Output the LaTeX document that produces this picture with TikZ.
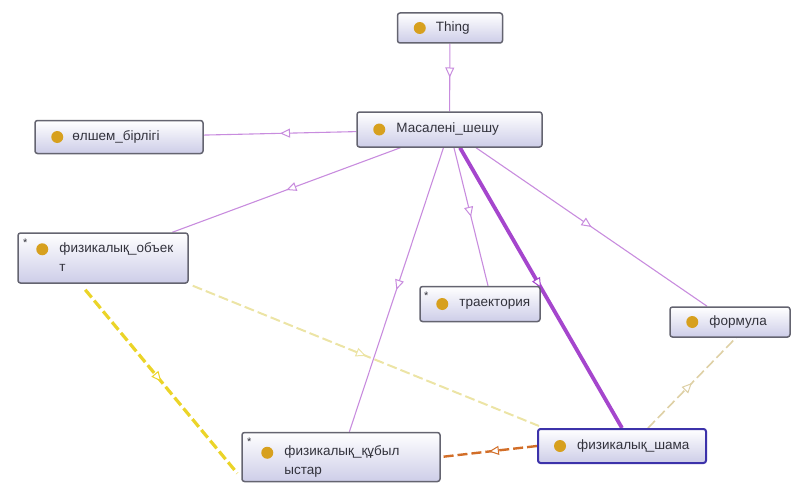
\documentclass[tikz,border=0pt]{standalone}
\usepackage{fontspec}
\setmainfont{Liberation Sans}
\usetikzlibrary{arrows.meta,decorations.markings,calc,backgrounds}
\definecolor{boxborder}{RGB}{100,100,112}
\definecolor{boxlav}{RGB}{205,205,232}
\definecolor{selblue}{RGB}{60,50,170}
\definecolor{iconor}{RGB}{215,160,30}
\definecolor{isacol}{RGB}{200,140,222}
\definecolor{isathick}{RGB}{165,70,205}
\definecolor{yel}{RGB}{235,212,40}
\definecolor{yellight}{RGB}{236,228,165}
\definecolor{orng}{RGB}{210,110,40}
\definecolor{tancol}{RGB}{222,208,165}
\definecolor{txtcol}{RGB}{50,50,60}
\tikzset{
  cls/.style={draw=boxborder, line width=1.5pt, rounded corners=2.5pt, top color=white, bottom color=boxlav, inner sep=0pt},
  selcls/.style={cls, draw=selblue, line width=2pt},
  icon/.style={circle, fill=iconor, minimum size=12pt, inner sep=0pt},
  lbl/.style={anchor=west, font=\fontsize{13.5}{19}\selectfont, text=txtcol, align=left, inner sep=0pt},
  lbltwo/.style={lbl, anchor=north west},
  starlbl/.style={font=\fontsize{11}{11}\selectfont, text=txtcol, inner sep=0pt},
  midarrow/.style={postaction=decorate, decoration={markings, mark=at position 0.5 with {\arrow{Triangle[open, fill=white, length=10pt, width=9pt, line width=1pt]}}}},
  isa/.style={draw=isacol, line width=1.1pt, midarrow},
  isabold/.style={draw=isathick, line width=3.8pt, midarrow},
  rel/.style={midarrow, dash pattern=on 10pt off 4pt},
}
\begin{document}
\begin{tikzpicture}[x=1pt,y=-1pt]
\useasboundingbox (0,0) rectangle (792,487);

% class boxes
\node[cls, minimum width=105, minimum height=30] (thing) at (450,28) {};
\node[cls, minimum width=168, minimum height=33] (olshem) at (119,137) {};
\node[cls, minimum width=185, minimum height=35] (masele) at (449.5,129.5) {};
\node[cls, minimum width=170, minimum height=50] (fizobj) at (103,258) {};
\node[cls, minimum width=120, minimum height=35] (traekt) at (480,304) {};
\node[cls, minimum width=120, minimum height=30] (formula) at (730,322) {};
\node[cls, minimum width=198, minimum height=49] (fizqub) at (341,457) {};
\node[selcls, minimum width=168, minimum height=34] (fizshama) at (622,446) {};

% icons
\node[icon] (thingi) at ($(thing.west)+(23,0)$) {};
\node[icon] (olshemi) at ($(olshem.west)+(23,0)$) {};
\node[icon] (masolei) at ($(masele.west)+(23,0)$) {};
\node[icon] (fizobji) at ($(fizobj.north west)+(25,17)$) {};
\node[icon] (traekti) at ($(traekt.west)+(23,0)$) {};
\node[icon] (formulai) at ($(formula.west)+(23,0)$) {};
\node[icon] (fizqubi) at ($(fizqub.north west)+(26,21)$) {};
\node[icon] (fizshamai) at ($(fizshama.west)+(23,0)$) {};

% stars
\node[starlbl] (fizobjs) at ($(fizobj.north west)+(8,10)$) {*};
\node[starlbl] (traekts) at ($(traekt.north west)+(7,10)$) {*};
\node[starlbl] (fizqubs) at ($(fizqub.north west)+(8,10)$) {*};

% labels
\node[lbl] (thingt) at ($(thing.west)+(39,0)$) {Thing};
\node[lbl] (olshemt) at ($(olshem.west)+(38,0)$) {өлшем\_бірлігі};
\node[lbl] (masolet) at ($(masele.west)+(40,0)$) {Масалені\_шешу};
\node[lbltwo] (fizobjt) at ($(fizobj.north west)+(42,10)$) {физикалық\_объек\\т};
\node[lbl] (traektt) at ($(traekt.west)+(40,0)$) {траектория};
\node[lbl] (formulat) at ($(formula.west)+(40,0)$) {формула};
\node[lbltwo] (fizqubt) at ($(fizqub.north west)+(43,14)$) {физикалық\_құбыл\\ыстар};
\node[lbl] (fizshamat) at ($(fizshama.west)+(40,0)$) {физикалық\_шама};

% connectors
\begin{scope}[on background layer]
\draw[isa] (thing) -- (masele);
\draw[isa] (masele) -- (olshem);
\draw[isa] (masele) -- (fizobj);
\draw[isa] (masele) -- (fizqub);
\draw[isa] (masele) -- ($(traekt.north)+(8,0)$);
\draw[isabold] (masele) -- (fizshama.north);
\draw[isa] (masele) -- (formula);
\draw[rel, draw=yel, line width=3.2pt] ($(fizobj.south west)+(68,6)$) -- ($(fizqub.south west)+(-4,-9)$);
\draw[rel, draw=yellight, line width=2pt] ($(fizobj.south east)+(4,2)$) -- ($(fizshama.north west)+(2,-2)$);
\draw[rel, draw=orng, line width=2.4pt] (fizshama.west) -- (fizqub.east);
\draw[rel, draw=tancol, line width=1.6pt] ($(fizshama.north)+(26,0)$) -- ($(formula.south)+(6,0)$);
\end{scope}
\end{tikzpicture}
\end{document}
